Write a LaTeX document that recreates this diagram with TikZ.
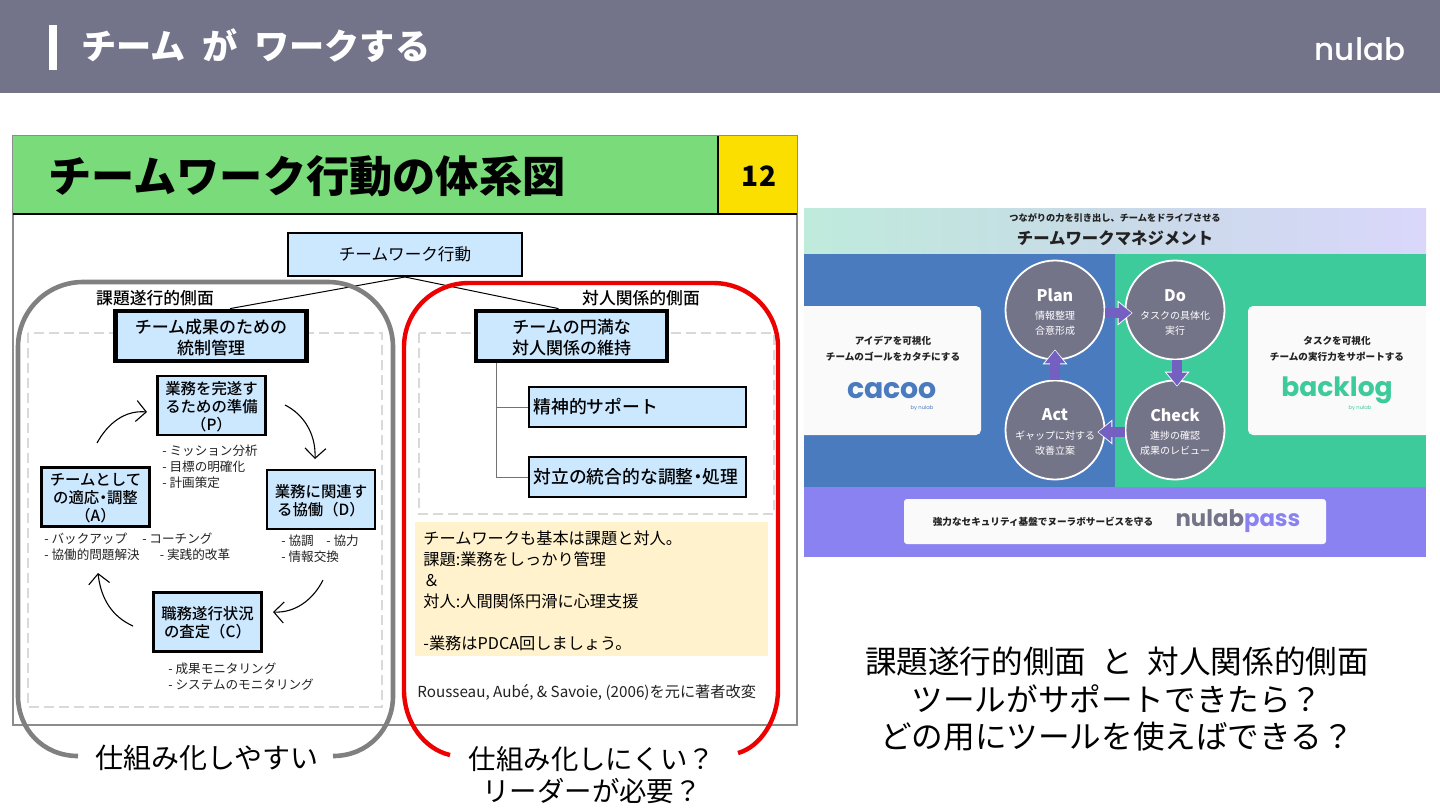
\documentclass[tikz,border=0pt]{standalone}
\usepackage{fontspec}
\setmainfont{Noto Sans CJK JP}
\newfontfamily\logofont{Poppins}
\newfontfamily\logomed{Poppins Medium}
\newfontfamily\medfont{Noto Sans CJK JP Medium}
\usetikzlibrary{arrows.meta,calc}
\newcommand{\fsz}[2]{\fontsize{#1pt}{#2pt}\selectfont}
\newcommand{\nakaten}{\kern-.25em・\kern-.25em}
\definecolor{headgray}{HTML}{737489}
\definecolor{boxblue}{HTML}{CCE8FF}
\definecolor{slidegreen}{HTML}{7ADB7A}
\definecolor{slideyellow}{HTML}{FADF00}
\definecolor{notecream}{HTML}{FFF2CC}
\definecolor{panelblue}{HTML}{4A7BBE}
\definecolor{panelgreen}{HTML}{3ECB9B}
\definecolor{panelpurple}{HTML}{8B82F2}
\definecolor{flowpurple}{HTML}{7360C0}
\definecolor{circgray}{HTML}{747489}
\definecolor{inktext}{HTML}{222222}
\definecolor{bandleft}{HTML}{BFEBDC}
\definecolor{bandmid}{HTML}{C8DAE7}
\definecolor{bandright}{HTML}{DAD7FB}
\newcommand{\dnA}{\rule{0pt}{9pt}}
\newcommand{\dnB}{\rule{0pt}{7.4pt}}
\tikzset{
  slidebox/.style={draw=black,fill=boxblue,line width=1pt,inner sep=0pt,align=center,text=black},
  thickbox/.style={slidebox,line width=2.4pt,font=\medfont\fsz{8.5}{10.5}},
  pdcabox/.style={slidebox,line width=1.1pt,minimum width=54pt,minimum height=29.5pt,font=\medfont\fsz{7.7}{9}},
  listtext/.style={anchor=west,inner sep=0pt,align=left,text=inktext,font=\fsz{6.3}{8}},
  sidelabel/.style={inner sep=0pt,text=black,font=\medfont\fsz{8.4}{10}},
  dashframe/.style={draw=black!15,line width=1.25pt,dash pattern=on 5pt off 2.5pt},
  cyclearrow/.style={draw=black,line width=.55pt,-{Straight Barb[length=5pt,width=10.5pt]}},
  bigline/.style={inner sep=0pt,text=black,font=\fsz{15.8}{19}},
  cyclecirc/.style={circle,draw=white,line width=.9pt,fill=circgray,minimum size=49.5pt,inner sep=0pt},
  circhead/.style={inner sep=0pt,text=white,font=\bfseries\fsz{8}{10}},
  circsub/.style={inner sep=0pt,text=white,align=center,font=\fsz{5}{7.5}},
  cardtext/.style={inner sep=0pt,align=center,text=inktext,font=\bfseries\fsz{4.8}{8}},
  flowhalo/.style={draw=white,line width=5pt,-{Triangle[length=7.5pt,width=12pt]}},
  flowarrow/.style={draw=flowpurple,line width=5pt,-{Triangle[length=6.5pt,width=10pt]}},
  byline/.style={inner sep=0pt,font=\logofont\fsz{2.6}{3}},
}
\begin{document}
\begin{tikzpicture}[x=0.5pt,y=-0.5pt]
\useasboundingbox (0,0) rectangle (1440,810);
\fill[white] (0,0) rectangle (1440,810);

% header
\fill[headgray] (0,0) rectangle (1440,93);
\fill[white] (49,25) rectangle (57,70);
\node[anchor=west,inner sep=0pt,text=white,font=\bfseries\fsz{17.6}{20}] (title) at (81,46) {チーム\hspace{.47em}が\hspace{.47em}ワークする};
\node[anchor=center,inner sep=0pt,text=white,font=\logomed\fsz{15.5}{18}] (nulab) at (1360,49) {nulab};

% slide
\draw[draw=black!45,line width=.8pt,fill=white] (13,136) rectangle (797,725);
\fill[slidegreen] (13,136) rectangle (718,214);
\fill[slideyellow] (718,136) rectangle (797,214);
\draw[black,line width=1.3pt] (13,214) -- (797,214);
\draw[black,line width=1.3pt] (718,136) -- (718,214);
\node[anchor=west,inner sep=0pt,text=black,font=\bfseries\fsz{21.6}{24}] (slidetitle) at (48,176) {チームワーク行動の体系図};
\node[inner sep=0pt,text=black,font=\bfseries\fsz{14}{16}] (pageno) at (759,176) {12};

% dashed areas
\draw[dashframe] (28,333) rectangle (382,707);
\draw[dashframe] (419,333) rectangle (774,514);

% boxes
\node[slidebox,minimum width=117pt,minimum height=21.5pt,font=\fsz{8.3}{10}] (root) at (405,254.5) {チームワーク行動};
\node[thickbox,minimum width=95.5pt,minimum height=25pt] (ctl) at (211,336) {\dnA チーム成果のための\\統制管理};
\node[thickbox,minimum width=95.5pt,minimum height=25pt] (rel) at (571.5,336) {\dnA チームの円満な\\対人関係の維持};
\node[sidelabel] (lab1) at (155,298) {課題遂行的側面};
\node[sidelabel] (lab2) at (641,298) {対人関係的側面};
\draw[black,line width=.5pt] (root.south) -- ([xshift=9.5pt]ctl.north);
\draw[black,line width=.5pt] (root.south) -- ([xshift=-6.5pt]rel.north);

\node[pdcabox] (p) at (211.5,405.5) {\dnB 業務を完遂す\\るための準備\\（P）};
\node[pdcabox] (a) at (95.5,497) {\dnB チームとして\\の適応\nakaten 調整\\（A）};
\node[pdcabox] (d) at (321,499.5) {\dnB 業務に関連す\\る協働（D）};
\node[pdcabox] (c) at (207.5,622) {\dnB 職務遂行状況\\の査定（C）};

\coordinate (a1) at (97,443); \coordinate (p1) at (147,412);
\coordinate (p2) at (285,405); \coordinate (d2) at (315,459);
\coordinate (d3) at (323,580); \coordinate (c3) at (273,612);
\coordinate (c4) at (133,626); \coordinate (a4) at (98,573);
\draw[cyclearrow] (a1) .. controls (108,423) and (125,410) .. (p1);
\draw[cyclearrow] (p2) .. controls (303,414) and (316,433) .. (d2);
\draw[cyclearrow] (d3) .. controls (313,600) and (295,613) .. (c3);
\draw[cyclearrow] (c4) .. controls (113,617) and (101,600) .. (a4);

\node[listtext] (plist) at (162,466.5) {- ミッション分析\\- 目標の明確化\\- 計画策定};
\node[listtext] (alist) at (44,546.5) {- バックアップ\hspace{1.2em}- コーチング\\- 協働的問題解決\hspace{1.6em}- 実践的改革};
\node[listtext] (dlist) at (281,549) {- 協調\hspace{1em}- 協力\\- 情報交換};
\node[listtext] (clist) at (168,677) {- 成果モニタリング\\- システムのモニタリング};

\node[slidebox,line width=1.1pt,minimum width=108.5pt,minimum height=20pt,text width=104pt,align=left,font=\medfont\fsz{8.9}{11}] (sup) at (637.5,407) {精神的サポート};
\node[slidebox,line width=1.1pt,minimum width=108.5pt,minimum height=20pt,text width=104pt,align=left,font=\medfont\fsz{8.9}{11}] (conf) at (637.5,477) {対立の統合的な調整\nakaten 処理};
\draw[black!55,line width=.5pt] ([xshift=11.5pt]rel.south west) |- (sup.west);
\draw[black!55,line width=.5pt] ([xshift=11.5pt]rel.south west) |- (conf.west);

% note
\node[fill=notecream,minimum width=176.5pt,minimum height=67pt,inner sep=0pt] (note) at (591.5,589) {};
\node[anchor=north west,inner sep=0pt,align=left,text=black,font=\fsz{8.1}{10.5}] (notetext) at (423,530) {チームワークも基本は課題と対人。\\課題:業務をしっかり管理\\＆\\対人:人間関係円滑に心理支援\\[10.5pt]-業務はPDCA回しましょう。};
\node[anchor=west,inner sep=0pt,text=inktext,font=\fsz{7.6}{9}] (ref) at (417,692) {Rousseau, Aubé, \& Savoie, (2006)を元に著者改変};

% frames
\draw[draw=black!50,line width=2.3pt] (78,756) .. controls (43,756) and (18,729) .. (18,696) -- (18,347) .. controls (18,311) and (47,282) .. (83,282) -- (328,282) .. controls (364,282) and (393,311) .. (393,347) -- (393,696) .. controls (393,729) and (368,756) .. (333,756);
\draw[draw=red!93!black,line width=2.2pt] (450,755) .. controls (424,749) and (404,722) .. (404,690) -- (404,347) .. controls (404,311) and (433,283) .. (469,283) -- (713,283) .. controls (749,283) and (778,311) .. (778,347) -- (778,690) .. controls (778,720) and (760,747) .. (738,753);

% captions
\node[inner sep=0pt,text=black,font=\fsz{14}{17}] (cap1) at (207,758) {仕組み化しやすい};
\node[inner sep=0pt,align=center,text=black,font=\fsz{13.7}{16}] (cap2) at (592,775) {仕組み化しにくい？\\リーダーが必要？};

% right panel
\shade[left color=bandleft,right color=bandright,middle color=bandmid] (804,208) rectangle (1426,254);
\fill[panelblue] (804,254) rectangle (1115,487);
\fill[panelgreen] (1115,254) rectangle (1426,487);
\fill[panelpurple] (804,487) rectangle (1426,557);
\node[inner sep=0pt,text=inktext,font=\bfseries\fsz{4.6}{6}] (sub) at (1115,218) {つながりの力を引き出し、チームをドライブさせる};
\node[inner sep=0pt,text=inktext,font=\bfseries\fsz{8.2}{10}] (main) at (1115,238) {チームワークマネジメント};

\fill[white!98!black] (804,306) {[rounded corners=2.5pt] -- (981,306) -- (981,435)} -- (804,435) -- cycle;
\fill[white!98!black] (1426,306) {[rounded corners=2.5pt] -- (1248,306) -- (1248,435)} -- (1426,435) -- cycle;
\fill[white!98!black,rounded corners=1.5pt] (904,499) rectangle (1326,544);

\node[cardtext] (ct1) at (893,349) {アイデアを可視化\\チームのゴールをカタチにする};
\node[inner sep=0pt,text=panelblue,font=\logofont\bfseries\fsz{14.2}{16}] (cacoo) at (892,391) {cacoo};
\node[byline,text=panelblue] (by1) at (922,408) {by nulab};
\node[cardtext] (ct2) at (1337,349) {タスクを可視化\\チームの実行力をサポートする};
\node[inner sep=0pt,text=panelgreen,font=\logofont\bfseries\fsz{13.3}{15}] (backlog) at (1337,390) {backlog};
\node[byline,text=panelgreen] (by2) at (1360,408) {by nulab};
\node[cardtext] (ct3) at (1043,522) {強力なセキュリティ基盤でヌーラボサービスを守る};
\node[inner sep=0pt,font=\logofont\bfseries\fsz{11.4}{13}] (npass) at (1238,521) {\textcolor{headgray}{nulab}\textcolor{panelpurple}{pass}};

\node[cyclecirc] (plan) at (1055,310) {};
\node[cyclecirc] (do) at (1175,310) {};
\node[cyclecirc] (act) at (1055,430) {};
\node[cyclecirc] (check) at (1175,430) {};
\draw[flowhalo,shorten >=-4pt] ([yshift=-1.5pt]plan.east) -- ([yshift=-1.5pt]do.west);
\draw[flowhalo,shorten >=-3.5pt] ([xshift=1pt]do.south) -- ([xshift=1pt]check.north);
\draw[flowhalo,shorten >=-4pt] ([yshift=-1pt]check.west) -- ([yshift=-1pt]act.east);
\draw[flowhalo,shorten >=-5.5pt] (act.north) -- (plan.south);
\draw[flowarrow,shorten >=-3.5pt] ([yshift=-1.5pt]plan.east) -- ([yshift=-1.5pt]do.west);
\draw[flowarrow,shorten >=-3pt] ([xshift=1pt]do.south) -- ([xshift=1pt]check.north);
\draw[flowarrow,shorten >=-3.5pt] ([yshift=-1pt]check.west) -- ([yshift=-1pt]act.east);
\draw[flowarrow,shorten >=-5pt] (act.north) -- (plan.south);

\node[circhead] (tplan) at (1055,295) {Plan};
\node[circsub] (splan) at (1055,323.5) {情報整理\\合意形成};
\node[circhead] (tdo) at (1175,296) {Do};
\node[circsub] (sdo) at (1175,323.5) {タスクの具体化\\実行};
\node[circhead] (tact) at (1055,415) {Act};
\node[circsub] (sact) at (1055,443.5) {ギャップに対する\\改善立案};
\node[circhead] (tcheck) at (1175,415) {Check};
\node[circsub] (scheck) at (1175,443.5) {進捗の確認\\成果のレビュー};

% closing text
\node[bigline] (q1) at (1117,661) {課題遂行的側面\hspace{.47em}と\hspace{.47em}対人関係的側面};
\node[bigline] (q2) at (1117,699) {ツールがサポートできたら？};
\node[bigline] (q3) at (1117,737) {どの用にツールを使えばできる？};
\end{tikzpicture}
\end{document}
